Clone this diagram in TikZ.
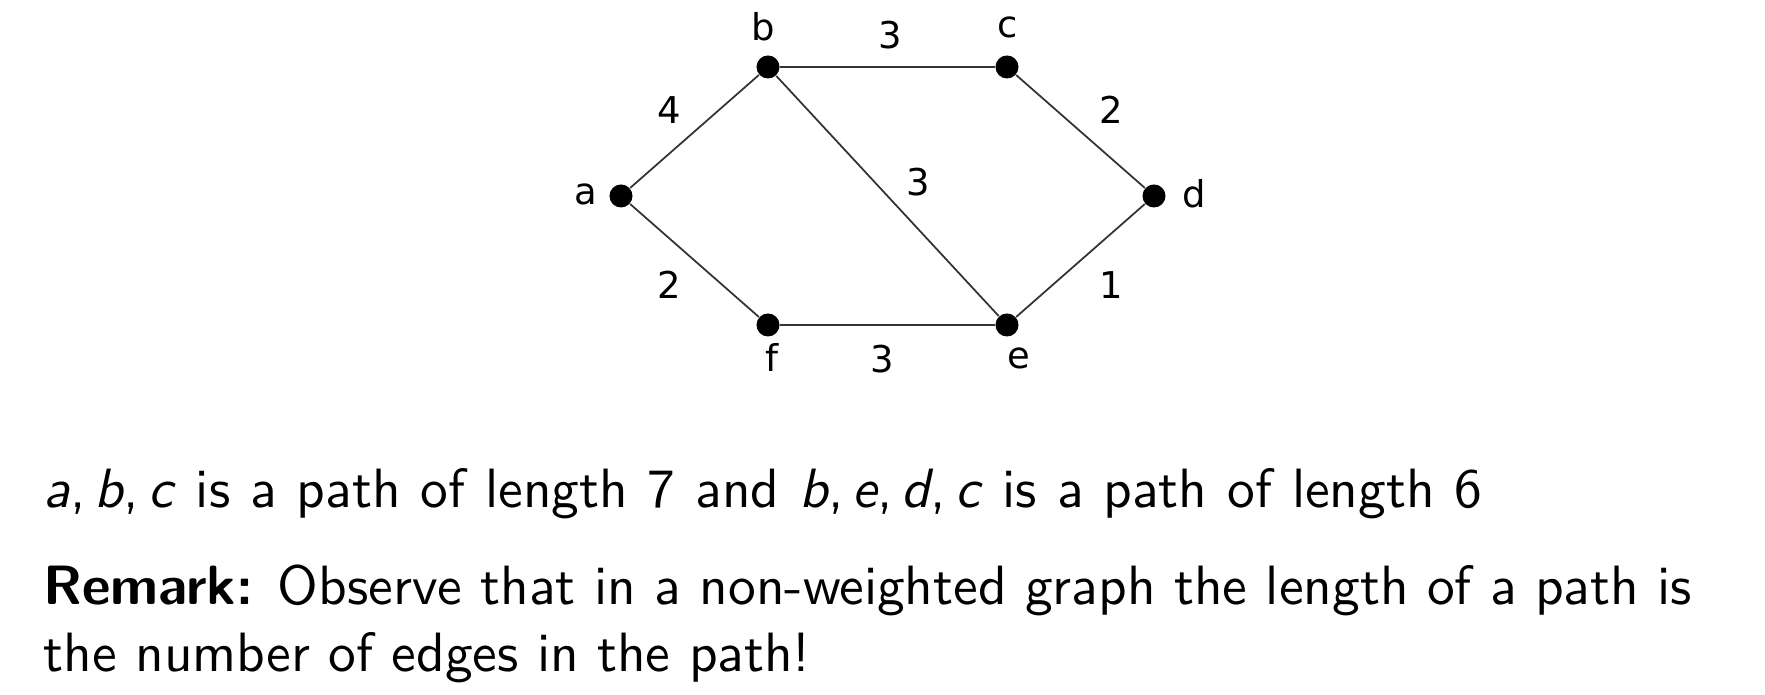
\documentclass[tikz,border=0pt]{standalone}
\usepackage{fontspec}
\newfontfamily\dvs{DejaVu Sans}
\setsansfont{lmsans10-regular.otf}[BoldFont=lmsans10-bold.otf,ItalicFont=lmsans10-oblique.otf]
\begin{document}
\begin{tikzpicture}[x=0.01cm,y=-0.01cm,
  vtx/.style={circle,fill=black,inner sep=0pt,minimum size=0.23cm},
  edgeline/.style={draw=black!80,line width=0.5pt},
  glabel/.style={font=\dvs\fontsize{10.5}{12}\selectfont,inner sep=0pt},
  bodytext/.style={font=\sffamily\fontsize{15.75}{18}\selectfont,inner sep=0pt,anchor=base west}]
\useasboundingbox (0,0) rectangle (1765,695);
% vertices
\node[vtx] (a) at (621,196) {};
\node[vtx] (b) at (768,67) {};
\node[vtx] (c) at (1007,67) {};
\node[vtx] (d) at (1154,196) {};
\node[vtx] (e) at (1007,325) {};
\node[vtx] (f) at (768,325) {};
% edges
\draw[edgeline] (a) -- (b);
\draw[edgeline] (b) -- (c);
\draw[edgeline] (c) -- (d);
\draw[edgeline] (d) -- (e);
\draw[edgeline] (e) -- (f);
\draw[edgeline] (f) -- (a);
\draw[edgeline] (b) -- (e);
% vertex labels
\node[glabel] (la) at (586,194) {a};
\node[glabel] (lb) at (763,27) {b};
\node[glabel] (lc) at (1008,27) {c};
\node[glabel] (ld) at (1194,194) {d};
\node[glabel] (le) at (1019,358) {e};
\node[glabel] (lf) at (772,357) {f};
% weights
\node[glabel] (wbc) at (890,35) {3};
\node[glabel] (wab) at (669,110) {4};
\node[glabel] (wcd) at (1111,110) {2};
\node[glabel] (wbe) at (918,182) {3};
\node[glabel] (waf) at (669,285) {2};
\node[glabel] (wde) at (1111,285) {1};
\node[glabel] (wfe) at (882,359) {3};
% text
\node[bodytext] (t1) at (43,508) {\spaceskip=0.36em\textit{a},\,\textit{b},\,\textit{c} is a path of length 7 and \textit{b},\,\textit{e},\,\textit{d},\,\textit{c} is a path of length 6};
\node[bodytext] (t2) at (43,605) {\textbf{Remark:} Observe that in a non-weighted graph the length of a path is};
\node[bodytext] (t3) at (43,672) {the number of edges in the path!};
\end{tikzpicture}
\end{document}
